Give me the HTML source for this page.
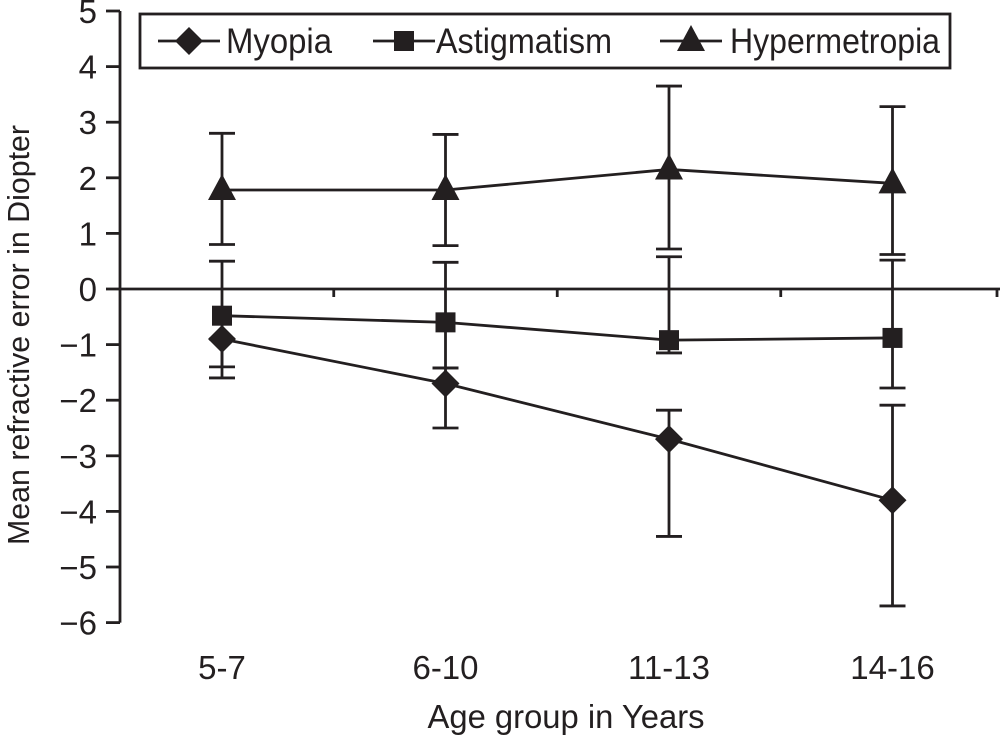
<!DOCTYPE html>
<html><head><meta charset="utf-8"><style>
html,body{margin:0;padding:0;background:#fff}
svg{display:block}
text{font-family:"Liberation Sans Narrow","Liberation Sans",sans-serif;fill:#231f20}
</style></head><body>
<svg id="chart" width="1000" height="736" viewBox="0 0 1000 736"></svg>
<script>
const categories=["5-7","6-10","11-13","14-16"];
const yTicks=[5,4,3,2,1,0,-1,-2,-3,-4,-5,-6];
const tickLabels=["5","4","3","2","1","0","\u22121","\u22122","\u22123","\u22124","\u22125","\u22126"];
const myopiaMean=[-0.9,-1.7,-2.7,-3.8];
const myopiaHi=[-0.9,-1.42,-2.18,-2.09];
const myopiaLo=[-1.6,-2.5,-4.45,-5.7];
const astigMean=[-0.48,-0.6,-0.92,-0.88];
const astigHi=[0.5,0.48,0.58,0.52];
const astigLo=[-1.4,-1.42,-1.15,-1.78];
const hyperMean=[1.78,1.78,2.15,1.9];
const hyperHi=[2.8,2.78,3.65,3.28];
const hyperLo=[0.8,0.78,0.72,0.62];

const NS="http://www.w3.org/2000/svg";
const svg=document.getElementById('chart');
const C="#231f20";
const SW=2.8;
function y(v){return 289-55.6*v;}
function x(i){return 222+223.5*i;}
function mk(tag,attrs,parent){const e=document.createElementNS(NS,tag);for(const k in attrs)e.setAttribute(k,attrs[k]);(parent||svg).appendChild(e);return e;}

const ax=mk('line',{x1:120,y1:y(5),x2:120,y2:y(-6),stroke:C,'stroke-width':SW});


yTicks.forEach((v,i)=>{
  const t=mk('line',{x1:106,y1:y(v),x2:120,y2:y(v),stroke:C,'stroke-width':SW});
  
  
  const l=mk('text',{x:97,y:y(v)+12,'text-anchor':'end','font-size':33});
  
  
  l.textContent=tickLabels[i];
});
const zl=mk('line',{x1:120,y1:y(0),x2:1000,y2:y(0),stroke:C,'stroke-width':SW});


for(let i=0;i<categories.length;i++){
  const tx=x(i)+111.75;
  const t=mk('line',{x1:Math.min(tx,997),y1:y(0),x2:Math.min(tx,997),y2:y(0)+8,stroke:C,'stroke-width':SW});
  
  
  const l=mk('text',{x:x(i),y:679,'text-anchor':'middle','font-size':33});
  
  
  l.textContent=categories[i];
}
function series(name,mean,hi,lo,shape){
  const g=mk('g',{});
  
  
  for(let i=0;i<mean.length;i++){
    const e=mk('g',{},g);
    
    
    mk('line',{x1:x(i),y1:y(hi[i]),x2:x(i),y2:y(lo[i]),stroke:C,'stroke-width':SW},e);
    mk('line',{x1:x(i)-13,y1:y(hi[i]),x2:x(i)+13,y2:y(hi[i]),stroke:C,'stroke-width':SW},e);
    mk('line',{x1:x(i)-13,y1:y(lo[i]),x2:x(i)+13,y2:y(lo[i]),stroke:C,'stroke-width':SW},e);
  }
  const pts=mean.map((v,i)=>x(i)+','+y(v)).join(' ');
  const pl=mk('polyline',{points:pts,fill:'none',stroke:C,'stroke-width':SW},g);
  
  
  mean.forEach((v,i)=>{
    const m=marker(shape,x(i),y(v),g);
    
    
  });
}
function marker(shape,cx,cy,p){
  if(shape==='d')return mk('polygon',{points:`${cx},${cy-14} ${cx+14},${cy} ${cx},${cy+14} ${cx-14},${cy}`,fill:C},p);
  if(shape==='s')return mk('rect',{x:cx-10,y:cy-10,width:20,height:20,fill:C},p);
  return mk('polygon',{points:`${cx},${cy-16} ${cx+14},${cy+10} ${cx-14},${cy+10}`,fill:C},p);
}
series('hypermetropia',hyperMean,hyperHi,hyperLo,'t');
series('astigmatism',astigMean,astigHi,astigLo,'s');
series('myopia',myopiaMean,myopiaHi,myopiaLo,'d');

const lg=mk('g',{});


mk('rect',{x:140,y:14,width:810,height:54,fill:'#fff',stroke:C,'stroke-width':SW},lg);
const entries=[['Myopia','d',158,226,106],['Astigmatism','s',373,436,176],['Hypermetropia','t',660,730,210]];
entries.forEach(en=>{
  const g=mk('g',{},lg);
  
  
  mk('line',{x1:en[2],y1:41,x2:en[2]+62,y2:41,stroke:C,'stroke-width':SW},g);
  marker(en[1],en[2]+31,41,g);
  const t=mk('text',{x:en[3],y:53,'font-size':35,textLength:en[4],lengthAdjust:'spacingAndGlyphs'},g);
  t.textContent=en[0];
});
const yt=mk('text',{x:0,y:0,'text-anchor':'middle','font-size':31,textLength:420,lengthAdjust:'spacingAndGlyphs',transform:'translate(29,335) rotate(-90)'});


yt.textContent='Mean refractive error in Diopter';
const xt=mk('text',{x:566,y:728,'text-anchor':'middle','font-size':33,textLength:277,lengthAdjust:'spacingAndGlyphs','xml:space':'preserve'});


xt.textContent='Age  group in Years';
</script>
</body></html>
